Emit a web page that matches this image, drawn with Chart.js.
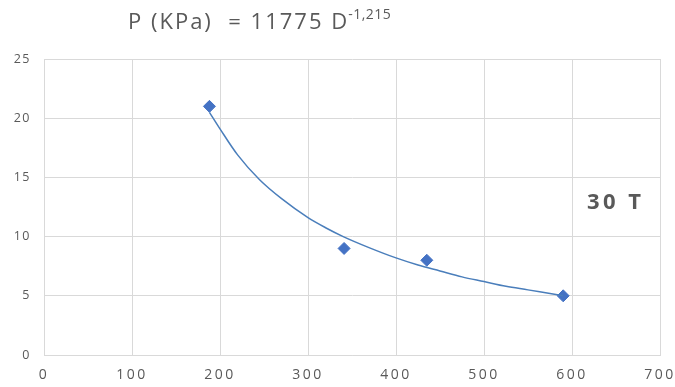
<!DOCTYPE html>
<html>
<head>
<meta charset="utf-8">
<script src="https://cdn.jsdelivr.net/npm/chart.js@4/dist/chart.umd.min.js"></script>
<style>
  html, body { margin: 0; padding: 0; background: #fff; }
  #wrap { width: 675px; height: 387px; }
</style>
</head>
<body>
<div id="wrap"><canvas id="pressureChart" width="675" height="387"></canvas></div>
<script>
// measured points (D, P)
const measuredD = [188, 341, 435, 590];
const measuredP = [21, 9, 8, 5];

// power trendline
const trendD = [188, 200, 220, 245, 270, 300, 320, 340, 370, 400, 425, 450, 475, 500, 525, 550, 570, 590];
const trendP = [20.5, 19.1, 16.9, 14.8, 13.2, 11.6, 10.75, 10.0, 9.05, 8.2, 7.6, 7.1, 6.6, 6.2, 5.8, 5.5, 5.25, 5.0];

const xTicks = [0, 100, 200, 300, 400, 500, 600, 700];
const yTicks = [0, 5, 10, 15, 20, 25];

const textColor = '#595959';
const gridColor = '#d9d9d9';
const fontFamily = '"Open Sans", sans-serif';

function toPoints(xs, ys) {
    return xs.map((x, i) => ({ x: x, y: ys[i] }));
}

// widen the tick labels a bit and keep the plot edges where they belong
function tuneScale(scale, size, spacing) {
    if (scale.isHorizontal()) {
        scale.height = size;
        scale.paddingLeft = 0;
        scale.paddingRight = 0;
    } else {
        scale.width = size;
        scale.paddingTop = 0;
        scale.paddingBottom = 0;
    }
    if (!scale._spaced) {
        const drawLabels = scale.drawLabels.bind(scale);
        scale.drawLabels = area => {
            scale.ctx.save();
            scale.ctx.letterSpacing = spacing;
            drawLabels(area);
            scale.ctx.restore();
        };
        scale._spaced = true;
    }
}

// equation above the plot and the "30 T" tag inside it
const annotations = {
    id: 'annotations',
    afterDraw(chart) {
        const ctx = chart.ctx;
        ctx.save();
        ctx.fillStyle = textColor;
        ctx.textBaseline = 'alphabetic';
        ctx.textAlign = 'left';
        ctx.letterSpacing = '2px';
        ctx.font = '22px ' + fontFamily;
        const main = 'P (KPa)  = 11775 D';
        const x0 = 128;
        ctx.fillText(main, x0, 29);
        const w = ctx.measureText(main).width;
        ctx.letterSpacing = '0.5px';
        ctx.font = '14px ' + fontFamily;
        ctx.fillText('-1,215', x0 + w - 1, 19);

        ctx.letterSpacing = '3.5px';
        ctx.font = 'bold 22px ' + fontFamily;
        ctx.fillText('30 T', 587, 209);
        ctx.restore();
    }
};

new Chart(document.getElementById('pressureChart'), {
    type: 'scatter',
    data: {
        datasets: [
            {
                label: 'Trend',
                data: toPoints(trendD, trendP),
                showLine: true,
                borderColor: '#4a7ebb',
                borderWidth: 1.5,
                pointRadius: 0,
                cubicInterpolationMode: 'monotone',
                fill: false
            },
            {
                label: 'P',
                data: toPoints(measuredD, measuredP),
                pointStyle: 'rectRot',
                pointRadius: 6,
                backgroundColor: '#4472c4',
                borderColor: '#4472c4',
                borderWidth: 1
            }
        ]
    },
    options: {
        responsive: false,
        animation: false,
        layout: { padding: { top: 59, right: 15, left: 0, bottom: 0 } },
        plugins: {
            legend: { display: false },
            tooltip: { enabled: false }
        },
        scales: {
            x: {
                type: 'linear',
                min: 0,
                max: 700,
                afterBuildTicks: scale => { scale.ticks = xTicks.map(v => ({ value: v })); },
                afterFit: scale => tuneScale(scale, 32, '2.5px'),
                grid: { color: gridColor, drawTicks: false, lineWidth: 1 },
                border: { color: gridColor },
                ticks: {
                    color: textColor,
                    padding: 12,
                    font: { family: fontFamily, size: 14 }
                }
            },
            y: {
                min: 0,
                max: 25,
                afterBuildTicks: scale => { scale.ticks = yTicks.map(v => ({ value: v })); },
                afterFit: scale => tuneScale(scale, 44, '1.5px'),
                grid: { color: gridColor, drawTicks: false, lineWidth: 1 },
                border: { color: gridColor },
                ticks: {
                    color: textColor,
                    padding: 13,
                    font: { family: fontFamily, size: 12.5 }
                }
            }
        }
    },
    plugins: [annotations]
});
</script>
</body>
</html>
